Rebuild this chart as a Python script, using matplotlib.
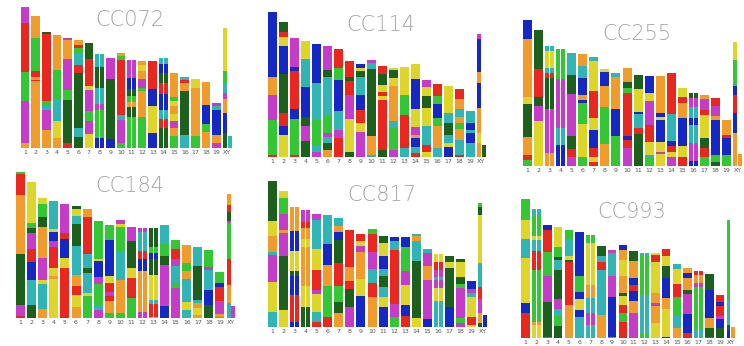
import matplotlib
matplotlib.use("Agg")
import matplotlib.pyplot as plt

# founder colours
colors = {
    "Y": "#ddd52a",  # yellow
    "G": "#1d601d",  # dark green
    "O": "#f09c2c",  # orange
    "R": "#e8281e",  # red
    "M": "#c43cc8",  # magenta
    "B": "#1628c4",  # blue
    "C": "#30b4b4",  # cyan
    "L": "#34c634",  # light green
}

chrom_labels = [str(i) for i in range(1, 20)] + ["XY"]
# chromosome lengths (Mb) as drawn: 1..19, X, Y
chrom_len = [195.5, 182.1, 160.0, 156.5, 151.8, 149.7, 145.4, 129.4, 124.6, 130.7,
             122.1, 120.1, 120.4, 124.9, 104.0, 98.2, 95.0, 90.7, 61.4, 166.0, 16.0]

# segments, top -> bottom: colour + start (pixel in the zoomed view)
# bar bottom = panel baseline
cc072 = [
    "M20 R70 L215 M303 O428",
    "O55 L118 R215 O235 R242 O247",
    "G100 R106 L303 C320 M330 O390",
    "O112 L215 C300 Y365 O415",
    "M117 O123 M180 L270 G300 R428",
    "O122 R138 L148 C160 R198 G222 C383 G410",
    "G132 R180 Y260 M273 L335 M363 Y403",
    "C160 G198 C262 M310 L330 B413",
    "M178 G240 B418",
    "O162 L170 R183 C345 M360 L430",
    "M182 B235 G268 L290 O308 G322 L353",
    "O186 Y198 O215 M240 L265 O275 L353",
    "R183 B268 Y318 B398",
    "C176 B195 G222 R252 B285 C330 R357 G385",
    "O222 L295 Y305 O320 Y345 M365 O385 L410",
    "C230 R240 O248 G272 C405",
    "Y237 O265 L408",
    "O245 B315 L372 O395",
    "M310 C318 B330 O405 M430",
    "Y88 L215 C250 M280 O300 B340 G400",
    "C410",
]
cc114 = [
    "B35 O230 M285 L360 R465",
    "G68 R100 Y115 B140 G225 R340 B378 Y405",
    "M118 B205 R215 B328 L358 R465",
    "Y127 C180 B265 G352 M378 G425",
    "B133 C250 L360 C435 M455",
    "M140 G212 C232 L345 M400 C412 G428 O450",
    "R150 L208 B243 C335 M392 R415",
    "R180 G230 R242 M285 Y355 G455",
    "B195 Y205 G215 C232 B285 R330 Y370 M397",
    "M183 C193 G210 O408 C465",
    "R200 G222 Y255 R278 Y290 R300 G450",
    "Y205 G212 Y235 O260 C365 L385 M450",
    "Y203 L287 R345 C445",
    "Y197 B240 Y330 M383 O405 B415 C440 R460",
    "M242 Y265 G290 Y325 C380 R435 Y455",
    "R255 L290 B315 L355 O380 C445",
    "Y260 C340 G370 C405 Y430 B440",
    "R268 O298 C327 O350 L370 O388 C420 R465",
    "C336 B372 C390 B400 C430",
    "M102 B118 O218 B250 O323 Y400 O430",
    "G437",
]
cc255 = [
    "B60 O118 Y290 G312 O410 R465 L480",
    "G93 R208 G292 M320 Y365",
    "C140 Y155 C205 R218 G235 M328 O458",
    "L153 M240 C385 B435",
    "C160 G228 M282 G410 R448 M472",
    "O163 C200 B235 O285 B300 L310 Y372 L470",
    "C173 Y185 R275 Y355 B390 R445 Y470 R485",
    "Y203 B212 O255 L318 O432",
    "C222 O235 B328 L408",
    "O208 G248 L265 R280 B410 R420 M445",
    "G225 Y268 B335 C342 R385 G402",
    "B230 Y280 M305 R375 Y425 C465 L475",
    "O230 B340 Y352 B362 Y425 M455 Y462",
    "R222 C345 B425 R440 Y458 M470",
    "Y267 R292 O310 B355 Y440 R470",
    "G280 M295 C322 B355 C375 M430 B482",
    "O286 M298 R330 Y345 G415 R445 L470",
    "R297 M320 O350 B362 L465 G485",
    "O358 R405 B412 L465",
    "Y128 L182 B260 R285 B340 O398",
    "O460",
]
cc184 = [
    "L5 R12 O75 G252 M405 R438",
    "Y40 L162 G178 M192 R240 B278 C330 G405",
    "Y88 L105 G145 O172 M265 Y330 C343 O418",
    "C98 Y180 B190 M215 R235 Y295 O320 Y330",
    "M105 R190 B208 Y265 R295",
    "G110 Y120 C140 G165 C230 O315 R350 Y375 O410",
    "O122 R145 C255 G295 C312 Y370 L380",
    "L152 Y265 B272 M320 L340 C405 M420",
    "L170 B215 Y320 R340 M368 R380 O395 L430",
    "M152 Y162 L172 C245 O330 L430",
    "M172 G215 Y295 R325 L385",
    "M178 C188 R245 B270 O305 M425",
    "G176 L232 B250 G268 Y315 C390 R403 O440",
    "C170 L228 G262 M288 B410",
    "L213 R240 M270 C288 L340 M355",
    "O227 L282 O305 C330 Y398 C420",
    "C232 G290 C390 O400 Y415 O435",
    "L240 M290 C300 B360 G405",
    "L307 B340 R350 M392 O432 L440",
    "O75 R108 G130 M155 L162 R270 O345 C400",
    "M410",
]
cc817 = [
    "G33 Y153 O198 C245 M255 Y335 C425",
    "Y65 L85 M135 O180 M190 G258 Y420",
    "O115 B185 Y245 G305 B318 R375 B455",
    "M125 R160 O178 Y210 O235 Y350 G412",
    "M130 C148 Y235 R300 M360 Y372 C425 R455",
    "C137 B222 O285 L350 R442",
    "C147 O170 B188 G213 R280 L350 G395 O430",
    "R177 O290 R330 G355 M410",
    "R195 Y215 M230 O250 Y330 B378",
    "L180 R195 M248 C298 R340 O382",
    "G198 Y220 B258 C297 G318 C352 Y380 B410",
    "B203 C213 R240 M402 L440",
    "B202 L232 M305 Y345 B405 R438",
    "C192 O200 C215 G275 Y445",
    "C240 M250 O290 M330 B448",
    "Y250 R275 M300 C320 M330 Y355 C393",
    "G258 Y275 G295 B410",
    "G265 Y275 G318 L342 M352 L445 M460",
    "B333 M357 C368 Y382 R440 Y465",
    "L100 G112 Y135 C280 R350 M388 O430 G458",
    "B435",
]
cc993 = [
    "L88 Y150 C208 Y265 B400 R428",
    "C118 L138 Y200 C210 R243 L300 O455 Y465",
    "B165 R182 L248 M320 G398 M500",
    "Y177 L235 G265 C275 G305 M390 C418 L440 G470",
    "L182 C208 Y258 G270 R278 O405",
    "B187 L318 B368 Y388 B420 C440",
    "L197 Y222 O345 C385 M430 C465",
    "G227 C255 R275 C300 O435",
    "M240 C250 M318 B380 L500",
    "B230 O245 Y272 O320 G370 Y380 R405 L430 R458",
    "G245 O272 B325 R345 B362 O393 M430",
    "C250 L258 C375 L492",
    "Y248 R255 Y275 O370 M398 O408 Y460",
    "R240 Y258 G290 B325 O385 Y418 B500",
    "C288 Y302 R345 L385 C440 O475",
    "O298 B312 O325 G363 M375 B432 R490",
    "R305 O318 M342 L352 C480",
    "G315 B362 O445 G475 R500",
    "R378 B398 R412 M440 B450 G475",
    "L152 C390 G465 B480",
    "O475",
]

strains = ["CC072", "CC114", "CC255", "CC184", "CC817", "CC993"]
strain_segs = [cc072, cc114, cc255, cc184, cc817, cc993]
base_zoom = [443, 470, 497, 445, 470, 505]

# panel placement in pixels: chr1 centre x, spacing, baseline y, chr1 top y
panel_c1 = [25, 272.3, 527.3, 20.7, 272.3, 525.7]
panel_sp = [10.65, 11.0, 11.08, 11.07, 11.08, 10.8]
panel_base = [147.7, 156.7, 165.7, 318.3, 326.7, 338.3]
panel_top = [6.7, 11.7, 20.0, 171.7, 181.0, 199.3]

W, H = 744, 346
fig = plt.figure(figsize=(W / 100, H / 100), dpi=100)

xpos = list(range(19)) + [18.78, 19.22]

for k in range(6):
    sp = panel_sp[k]
    x0, x1 = -0.7, 19.5
    left = (panel_c1[k] + x0 * sp) / W
    width = (x1 - x0) * sp / W
    hpx = 200 / 195.5 * (panel_base[k] - panel_top[k])
    ax = fig.add_axes([left, 1 - panel_base[k] / H, width, hpx / H])
    ax.set_xlim(x0, x1)
    ax.set_ylim(0, 200)

    for i, s in enumerate(strain_segs[k]):
        toks = [(t[0], float(t[1:])) for t in s.split()]
        top = toks[0][1]
        total = base_zoom[k] - top
        ends = [t[1] for t in toks[1:]] + [base_zoom[k]]
        for (c, st), en in zip(toks, ends):
            seg = (en - st) / total * chrom_len[i]
            bottom = (base_zoom[k] - en) / total * chrom_len[i]
            if i < 19:
                for dx in (-0.205, 0.205):
                    ax.bar(xpos[i] + dx, seg, width=0.40, bottom=bottom,
                           color=colors[c], linewidth=0)
            else:
                ax.bar(xpos[i], seg, width=0.36, bottom=bottom,
                       color=colors[c], linewidth=0)

    ax.set_xticks(list(range(19)) + [19.0])
    ax.set_xticklabels(chrom_labels, fontsize=4.5, color="#555555")
    ax.tick_params(axis="x", length=0, pad=1.5)
    ax.set_yticks([])
    for sp_name in ax.spines:
        ax.spines[sp_name].set_visible(False)
    ax.patch.set_alpha(0)
    ax.text(9.85, 177, strains[k], ha="center", va="center", fontsize=15,
            color="#a6a6a6", family="DejaVu Sans", fontweight="light")

fig.savefig("out.png", dpi=100)
